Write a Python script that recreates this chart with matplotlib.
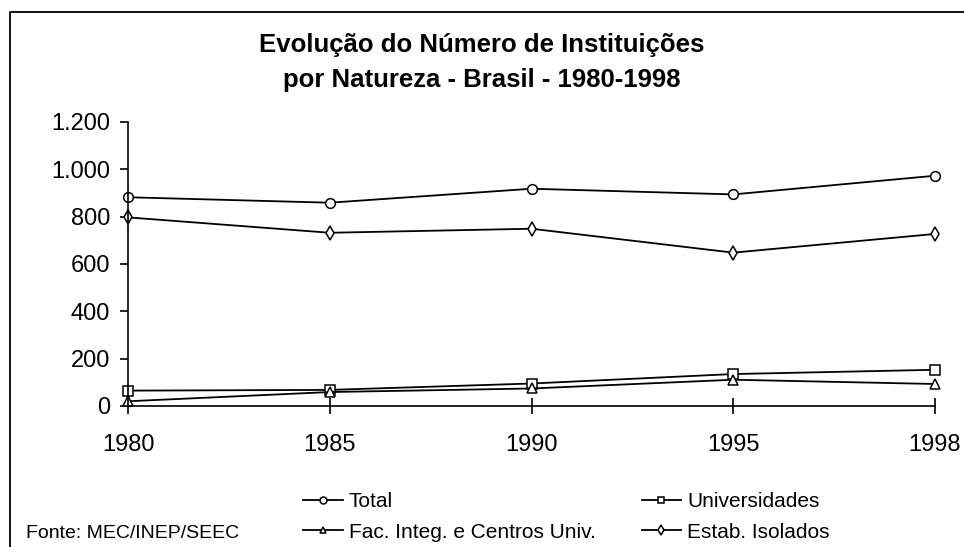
import matplotlib
matplotlib.use("Agg")
import matplotlib.pyplot as plt
from matplotlib.lines import Line2D
from matplotlib.ticker import FuncFormatter

plt.rcParams['font.family'] = ['Liberation Sans', 'DejaVu Sans']

anos = ['1980', '1985', '1990', '1995', '1998']
total = [882, 859, 918, 894, 973]
universidades = [65, 68, 95, 135, 153]
fac_integ = [20, 59, 74, 111, 93]
isolados = [797, 732, 749, 648, 727]

W, H = 964, 547
fig = plt.figure(figsize=(W / 100, H / 100), dpi=100)
ax = fig.add_axes([128 / W, 1 - 406 / H, (935 - 128) / W, (406 - 122) / H])

x = list(range(len(anos)))
style = dict(color='black', lw=1.3, markersize=7, markerfacecolor='white',
             markeredgecolor='black', markeredgewidth=1.1, clip_on=False)
l1, = ax.plot(x, total, marker='o', label='Total', **style)
l2, = ax.plot(x, universidades, marker='s', label='Universidades', **style)
l3, = ax.plot(x, fac_integ, marker='^', label='Fac. Integ. e Centros Univ.', **style)
l4, = ax.plot(x, isolados, marker='d', label='Estab. Isolados', **style)

ax.set_xlim(0, len(anos) - 1)
ax.set_ylim(0, 1200)
ax.set_xticks(x)
ax.set_xticklabels(anos)
ax.set_yticks(range(0, 1201, 200))
ax.yaxis.set_major_formatter(FuncFormatter(lambda v, p: f'{int(v):,}'.replace(',', '.')))

for s in ['top', 'right']:
    ax.spines[s].set_visible(False)
for s in ['left', 'bottom']:
    ax.spines[s].set_linewidth(1.2)

ax.tick_params(axis='x', direction='inout', length=12, width=1.2, pad=14, labelsize=17)
ax.tick_params(axis='y', direction='out', length=6, width=1.2, pad=7, labelsize=17)

fig.text(0.5, 1 - 45 / H, 'Evolução do Número de Instituições', ha='center', va='center',
         fontsize=18.5, fontweight='bold')
fig.text(0.5, 1 - 80 / H, 'por Natureza - Brasil - 1980-1998', ha='center', va='center',
         fontsize=18.5, fontweight='bold')

leg = fig.legend(handles=[l1, l3, l2, l4], ncol=2, loc='center left',
                 bbox_to_anchor=(303 / W, 1 - 517 / H), frameon=False, fontsize=15,
                 handlelength=1.9, handletextpad=0.3, columnspacing=2.2,
                 labelspacing=0.55, borderaxespad=0, borderpad=0)
for h in leg.legend_handles:
    h.set_markersize(5)

fig.text(26 / W, 1 - 533 / H, 'Fonte: MEC/INEP/SEEC', ha='left', va='center', fontsize=14)

fig.add_artist(Line2D([10 / W, 10 / W, 1.0], [0.0, 1 - 12 / H, 1 - 12 / H],
                      transform=fig.transFigure, color='black', lw=1.3))

fig.savefig('out.png', dpi=100)
